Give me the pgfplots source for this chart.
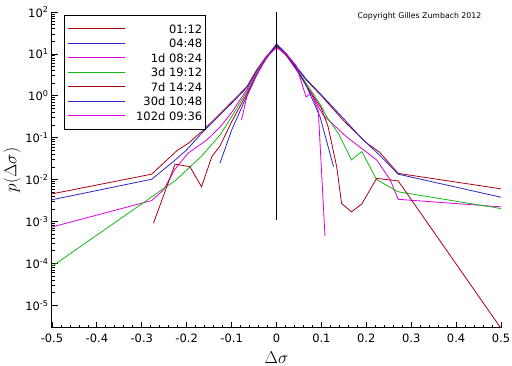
\documentclass[border=0pt]{standalone}
\usepackage{fontspec}
\setmainfont{DejaVu Sans}
\usepackage{pgfplots}
\pgfplotsset{compat=1.18}
\definecolor{cred}{RGB}{170,0,20}
\definecolor{cblue}{RGB}{40,40,200}
\definecolor{cmag}{RGB}{220,0,220}
\definecolor{cgreen}{RGB}{20,185,20}
\begin{document}
\begin{tikzpicture}
\path[use as bounding box] (-52pt,-38pt) rectangle (460pt,328pt);
\begin{axis}[
  at={(0pt,0pt)}, anchor=south west,
  width=449pt, height=316pt, scale only axis,
  xmin=-0.5, xmax=0.5,
  ymode=log, ymin=2.88e-6, ymax=100,
  axis x line*=bottom, axis y line*=left,
  axis line style={line width=1pt, black},
  tick align=inside,
  tick style={black, line width=0.8pt},
  major tick length=6pt, minor tick length=3pt,
  xtick={-0.5,-0.4,-0.3,-0.2,-0.1,0,0.1,0.2,0.3,0.4,0.5},
  xticklabels={-0.5,-0.4,-0.3,-0.2,-0.1,0,0.1,0.2,0.3,0.4,0.5},
  minor x tick num=4,
  ytick={1e-5,1e-4,1e-3,1e-2,1e-1,1,10,100},
  yticklabels={10\textsuperscript{-5},10\textsuperscript{-4},10\textsuperscript{-3},10\textsuperscript{-2},10\textsuperscript{-1},10\textsuperscript{0},10\textsuperscript{1},10\textsuperscript{2}},
  tick label style={font=\fontsize{11.5}{13}\selectfont},
  xticklabel style={yshift=-2pt},
  xlabel={$\Delta\sigma$}, ylabel={$p(\Delta\sigma)$},
  xlabel style={at={(axis description cs:0.5,-0.095)}, anchor=center, font=\fontsize{18}{20}\selectfont},
  ylabel style={at={(axis description cs:-0.089,0.5)}, anchor=center, font=\fontsize{19}{21}\selectfont},
  legend style={at={(axis description cs:0.0267,0.9905)}, anchor=north west,
    draw=black, line width=0.8pt, font=\fontsize{11.5}{13}\selectfont,
    inner xsep=3pt, inner ysep=6pt, column sep=11pt, row sep=0pt,
    nodes={inner xsep=0pt, inner ysep=2.9pt, text height=8.7pt, text depth=0pt}},
  legend image code/.code={\draw[#1] (0pt,0pt) -- (57pt,0pt);},
  legend cell align=right,
  every axis plot/.append style={line width=0.8pt},
]
\addplot[cred] coordinates {
(-0.5,4.57e-3) (-0.278,0.0135) (-0.248,0.0269) (-0.222,0.049) (-0.196,0.0741)
(-0.163,0.151) (-0.1,0.708) (-0.066,1.66) (-0.044,4.17) (-0.022,8.91) (0,15.5)
(0.022,9.55) (0.044,4.79) (0.066,2.40) (0.1,1.0) (0.15,0.251) (0.179,0.126)
(0.2,0.0759) (0.23,0.0447) (0.271,0.0141) (0.5,6.03e-3)};
\addlegendentry{\makebox[66pt][r]{01:12}}
\addplot[cblue] coordinates {
(-0.5,3.31e-3) (-0.278,0.0102) (-0.23,0.0269) (-0.2,0.0513) (-0.163,0.141)
(-0.1,0.661) (-0.066,1.58) (-0.044,3.98) (-0.022,8.51) (0,16.6) (0.022,10.0)
(0.044,5.01) (0.066,2.51) (0.1,1.05) (0.15,0.282) (0.19,0.0955) (0.23,0.038)
(0.271,0.0135) (0.5,3.80e-3)};
\addlegendentry{\makebox[66pt][r]{04:48}}
\addplot[cmag] coordinates {
(-0.5,7.41e-4) (-0.278,3.16e-3) (-0.252,5.62e-3) (-0.226,0.0178) (-0.197,0.0427)
(-0.155,0.0891) (-0.126,0.178) (-0.1,0.398) (-0.066,1.41) (-0.044,3.80)
(-0.022,8.32) (0,14.8) (0.022,9.12) (0.044,4.17) (0.066,1.78) (0.085,0.794)
(0.104,0.347) (0.156,0.105) (0.223,0.0295) (0.253,0.01) (0.271,3.39e-3) (0.5,2.24e-3)};
\addlegendentry{\makebox[66pt][r]{1d 08:24}}
\addplot[cgreen] coordinates {
(-0.5,8.51e-5) (-0.224,9.77e-3) (-0.167,0.0363) (-0.126,0.115) (-0.1,0.316)
(-0.066,1.26) (-0.044,3.55) (-0.022,8.32) (0,15.1) (0.022,9.33) (0.044,4.57)
(0.066,2.0) (0.1,0.562) (0.112,0.316) (0.138,0.126) (0.167,0.0295) (0.19,0.0468)
(0.223,0.01) (0.271,5.13e-3) (0.5,2.04e-3)};
\addlegendentry{\makebox[66pt][r]{3d 19:12}}
\addplot[cred] coordinates {
(-0.274,9.12e-4) (-0.226,0.0234) (-0.193,0.0204) (-0.167,6.76e-3) (-0.144,0.0355)
(-0.126,0.0631) (-0.1,0.240) (-0.066,1.12) (-0.044,3.31) (-0.022,7.94) (0,15.8)
(0.022,9.33) (0.044,4.37) (0.066,1.78) (0.1,0.501) (0.115,0.182) (0.134,0.0204)
(0.145,2.69e-3) (0.167,1.70e-3) (0.19,2.63e-3) (0.223,0.0107) (0.271,9.33e-3)
(0.5,2.82e-6)};
\addlegendentry{\makebox[66pt][r]{7d 14:24}}
\addplot[cblue] coordinates {
(-0.126,0.0245) (-0.1,0.151) (-0.066,1.0) (-0.044,3.16) (-0.022,8.32) (0,17.4)
(0.022,10.0) (0.044,4.57) (0.066,1.78) (0.097,0.316) (0.127,0.0204)};
\addlegendentry{\makebox[66pt][r]{30d 10:48}}
\addplot[cmag] coordinates {
(-0.078,0.263) (-0.066,0.955) (-0.044,3.16) (-0.022,8.51) (0,14.1) (0.022,10.0)
(0.044,5.25) (0.066,0.933) (0.077,1.17) (0.093,0.457) (0.108,4.47e-4)};
\addlegendentry{\makebox[66pt][r]{102d 09:36}}
\addplot[black, line width=1pt, forget plot] coordinates {(0,1.07e-3) (0,100)};
\node[font=\fontsize{7.8}{9}\selectfont] at (axis description cs:0.8185,0.987) {Copyright Gilles Zumbach 2012};
\end{axis}
\end{tikzpicture}
\end{document}
